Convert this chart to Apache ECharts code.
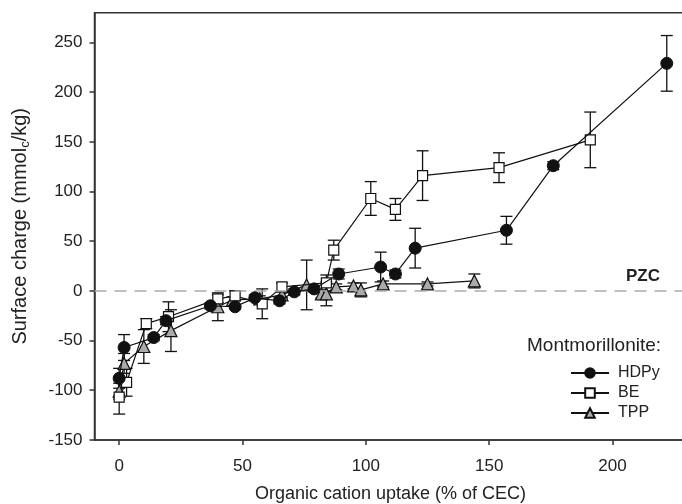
<!DOCTYPE html>
<html><head><meta charset="utf-8">
<script src="https://cdn.jsdelivr.net/npm/echarts@6/dist/echarts.min.js"></script>
<style>html,body{margin:0;padding:0;background:#fff}#c{width:682px;height:504px}</style>
</head><body><div id="c"></div>
<script>
// ---- data ----
const hdpyX = [0, 2, 14, 19, 37, 47, 55, 65, 71, 79, 89, 106, 112, 120, 157, 176, 222];
const hdpyY = [-88, -57, -47, -30, -15, -16, -7, -10, -1, 2, 17, 24, 17, 43, 61, 126, 229];
const hdpyErr = [10, 13, 3, 4, 3, 2, 3, 3, 3, 3, 5, 15, 4, 20, 14, 4, 28];

const beX = [0, 3, 11, 20, 40, 47, 58, 66, 84, 87, 102, 112, 123, 154, 191];
const beY = [-107, -92, -33, -26, -8, -5, -13, 4, 8, 41, 93, 82, 116, 124, 152];
const beErr = [17, 14, 5, 15, 4, 5, 15, 4, 8, 10, 17, 11, 25, 15, 28];

const tppX = [0, 2, 10, 21, 40, 46, 57, 66, 76, 82, 84, 88, 95, 98, 107, 125, 144];
const tppY = [-101, -73, -56, -40, -16, -9, -8, -4, 6, -3, -3, 4, 5, 1, 7, 7, 10];
const tppErr = [8, 10, 17, 21, 14, 3, 3, 3, 25, 4, 12, 3, 3, 7, 3, 2, 7];

const xTicks = [0, 50, 100, 150, 200];
const yTicks = [-150, -100, -50, 0, 50, 100, 150, 200, 250];
const pzcLevel = 0;

const FONT = 'Arial, "Liberation Sans", sans-serif';
const zip = (xs, ys) => xs.map((x, i) => [x, ys[i]]);
const errData = (xs, ys, es) => xs.map((x, i) => [x, ys[i] - es[i], ys[i] + es[i]]);

function errSeries(name, data) {
  return {
    type: 'custom', name: name + '_err', silent: true, z: 2,
    data: data,
    renderItem: function (params, api) {
      const lo = api.coord([api.value(0), api.value(1)]);
      const hi = api.coord([api.value(0), api.value(2)]);
      const w = 6;
      const st = { stroke: '#111', lineWidth: 1.3 };
      return { type: 'group', children: [
        { type: 'line', shape: { x1: lo[0], y1: lo[1], x2: hi[0], y2: hi[1] }, style: st },
        { type: 'line', shape: { x1: lo[0] - w, y1: lo[1], x2: lo[0] + w, y2: lo[1] }, style: st },
        { type: 'line', shape: { x1: hi[0] - w, y1: hi[1], x2: hi[0] + w, y2: hi[1] }, style: st }
      ]};
    }
  };
}

const chart = echarts.init(document.getElementById('c'), null, { renderer: 'canvas' });
chart.setOption({
  animation: false,
  backgroundColor: '#fff',
  textStyle: { fontFamily: FONT },
  grid: { left: 94.5, top: 12.7, width: 592, height: 427.2, outerBoundsMode: 'none', containLabel: false,
          show: true, borderColor: '#333', borderWidth: 1.5, backgroundColor: 'transparent' },
  xAxis: {
    type: 'value', min: -10, max: 230,
    name: 'Organic cation uptake (% of CEC)', nameLocation: 'middle', nameGap: 45,
    nameTextStyle: { fontSize: 18, color: '#222', fontFamily: FONT },
    axisLine: { show: true, onZero: false, lineStyle: { color: '#333', width: 1.5 } },
    axisTick: { show: true, length: 5, customValues: xTicks, lineStyle: { color: '#333', width: 1.5 } },
    axisLabel: { customValues: xTicks, margin: 18, fontSize: 17, color: '#222', fontFamily: FONT },
    splitLine: { show: false }
  },
  yAxis: {
    type: 'value', min: -150, max: 280,
    name: '{a|Surface charge (mmol}{s|c}{a|/kg)}', nameLocation: 'middle', nameGap: 63, nameRotate: 90,
    nameTextStyle: { rich: { a: { fontSize: 20, color: '#222', fontFamily: FONT }, s: { fontSize: 13, color: '#222', fontFamily: FONT, verticalAlign: 'bottom', padding: [10, 0, 0, 0] } } },
    axisLine: { show: true, onZero: false, lineStyle: { color: '#333', width: 1.5 } },
    axisTick: { show: true, length: 5, customValues: yTicks, lineStyle: { color: '#333', width: 1.5 } },
    axisLabel: { customValues: yTicks, margin: 12, fontSize: 17, color: '#222', fontFamily: FONT },
    splitLine: { show: false }
  },
  legend: {
    orient: 'vertical', left: 570, top: 365, padding: 0, itemWidth: 38, itemHeight: 12, itemGap: 4,
    data: ['HDPy', 'BE', 'TPP'],
    textStyle: { fontSize: 16, lineHeight: 16, color: '#222', fontFamily: FONT, padding: [0, 0, 0, 4] }
  },
  graphic: [
    { type: 'text', left: 527, top: 336, style: { text: 'Montmorillonite:', font: '19px ' + FONT, fill: '#222' } },
    { type: 'text', left: 626, top: 268, style: { text: 'PZC', font: 'bold 17px ' + FONT, fill: '#222' } }
  ],
  series: [
    {
      type: 'line', name: 'pzc', data: [], silent: true,
      markLine: { silent: true, symbol: 'none', label: { show: false },
        lineStyle: { color: '#aaa', width: 1.5, type: [12, 8] },
        data: [{ yAxis: pzcLevel }] }
    },
    errSeries('HDPy', errData(hdpyX, hdpyY, hdpyErr)),
    errSeries('BE', errData(beX, beY, beErr)),
    errSeries('TPP', errData(tppX, tppY, tppErr)),
    {
      type: 'line', name: 'TPP', data: zip(tppX, tppY), z: 3,
      symbol: 'triangle', symbolSize: 12,
      lineStyle: { color: '#111', width: 1.2 },
      itemStyle: { color: '#aaa', borderColor: '#111', borderWidth: 1.2 }
    },
    {
      type: 'line', name: 'BE', data: zip(beX, beY), z: 4,
      symbol: 'rect', symbolSize: 10,
      lineStyle: { color: '#111', width: 1.2 },
      itemStyle: { color: '#fff', borderColor: '#111', borderWidth: 1.2 }
    },
    {
      type: 'line', name: 'HDPy', data: zip(hdpyX, hdpyY), z: 5,
      symbol: 'circle', symbolSize: 12,
      lineStyle: { color: '#111', width: 1.2 },
      itemStyle: { color: '#111', borderColor: '#111', borderWidth: 1 }
    }
  ]
});
</script></body></html>
